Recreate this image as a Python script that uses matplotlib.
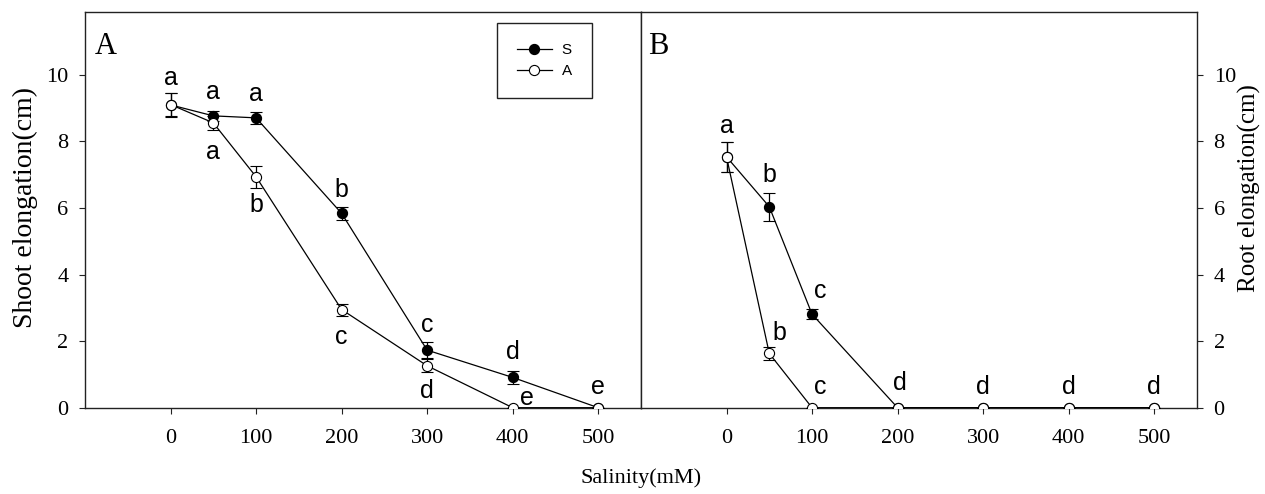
import matplotlib
matplotlib.use("Agg")
import matplotlib.pyplot as plt
from matplotlib.lines import Line2D

# ---------------- data ----------------
salinity = [0, 50, 100, 200, 300, 400, 500]

shoot_S = [9.10, 8.77, 8.71, 5.84, 1.73, 0.91, 0.0]
shoot_S_err = [0.35, 0.14, 0.17, 0.20, 0.24, 0.20, 0.0]
shoot_A = [9.11, 8.56, 6.94, 2.95, 1.26, 0.0, 0.0]
shoot_A_err = [0.35, 0.20, 0.33, 0.18, 0.20, 0.0, 0.0]

root_S = [7.54, 6.04, 2.81, 0.0, 0.0, 0.0, 0.0]
root_S_err = [0.45, 0.42, 0.15, 0.0, 0.0, 0.0, 0.0]
root_A = [7.54, 1.63, 0.0, 0.0, 0.0, 0.0, 0.0]
root_A_err = [0.45, 0.20, 0.0, 0.0, 0.0, 0.0, 0.0]

shoot_S_letters = ['a', 'a', 'a', 'b', 'c', 'd', 'e']
shoot_A_letters = ['', 'a', 'b', 'c', 'd', 'e', '']
root_S_letters = ['a', 'b', 'c', 'd', 'd', 'd', 'd']
root_A_letters = ['', 'b', 'c', '', '', '', '']

series_names = ['S', 'A']
xticks = [0, 100, 200, 300, 400, 500]
yticks = [0, 2, 4, 6, 8, 10]

# ---------------- layout (letter offsets in points) ----------------
shoot_S_off = [(0, 19), (0, 17), (0, 17), (0, 17), (0, 18), (0, 18), (0, 15)]
shoot_A_off = [(0, 0), (0, -21), (0, -20), (0, -20), (0, -18), (10, 7), (0, 0)]
root_S_off = [(0, 22), (0, 23), (6, 17), (2, 18), (0, 15), (0, 15), (0, 15)]
root_A_off = [(0, 0), (7, 15), (6, 15), (0, 0), (0, 0), (0, 0), (0, 0)]

serif = ['Liberation Serif', 'DejaVu Serif']
sans = ['Liberation Sans', 'DejaVu Sans']
plt.rcParams['font.family'] = serif

fig = plt.figure(figsize=(12.65, 4.94), dpi=100)
axL = fig.add_axes([0.0672, 0.1747, 0.4395, 0.8016])
axR = fig.add_axes([0.5067, 0.1747, 0.4395, 0.8016])

spine_col = '#222222'
MS = 7.3
LW = 0.9


def draw(ax, yS, eS, yA, eA, lS, lA, oS, oA):
    ax.errorbar(salinity, yS, yerr=eS, color='black', lw=LW, marker='o',
                ms=MS, mfc='black', mec='black', mew=0.8, capsize=4.3,
                elinewidth=LW, capthick=LW, zorder=3)
    ax.errorbar(salinity, yA, yerr=eA, color='black', lw=LW, marker='o',
                ms=MS, mfc='white', mec='black', mew=0.8, capsize=4.3,
                elinewidth=LW, capthick=LW, zorder=4)
    for x, y, t, o in zip(salinity, yS, lS, oS):
        if t:
            ax.annotate(t, (x, y), xytext=o, textcoords='offset points',
                        ha='center', va='center', fontsize=18, family=sans)
    for x, y, t, o in zip(salinity, yA, lA, oA):
        if t:
            ax.annotate(t, (x, y), xytext=o, textcoords='offset points',
                        ha='center', va='center', fontsize=18, family=sans)
    ax.set_xlim(-100, 550)
    ax.set_ylim(0, 11.9)
    ax.set_xticks(xticks)
    ax.set_yticks(yticks)
    for s in ax.spines.values():
        s.set_color(spine_col)
        s.set_linewidth(1.0)
    ax.tick_params(direction='out', length=4, width=0.8, color=spine_col,
                   labelsize=16)
    ax.tick_params(axis='x', pad=11)


draw(axL, shoot_S, shoot_S_err, shoot_A, shoot_A_err,
     shoot_S_letters, shoot_A_letters, shoot_S_off, shoot_A_off)
draw(axR, root_S, root_S_err, root_A, root_A_err,
     root_S_letters, root_A_letters, root_S_off, root_A_off)

axL.tick_params(axis='y', pad=8)
axR.yaxis.tick_right()
axR.tick_params(axis='y', pad=8)

axL.set_ylabel('Shoot elongation(cm)', fontsize=20)
axL.yaxis.label.set_va('center')
axL.yaxis.set_label_coords(-0.108, 0.505)
axR.yaxis.set_label_position('right')
axR.set_ylabel('Root elongation(cm)', fontsize=18, rotation=90)
axR.yaxis.label.set_va('center')
axR.yaxis.set_label_coords(1.095, 0.555)

axL.text(0.018, 0.948, 'A', transform=axL.transAxes, fontsize=22,
         va='top', ha='left')
axR.text(0.013, 0.948, 'B', transform=axR.transAxes, fontsize=22,
         va='top', ha='left')

fig.text(0.507, 0.032, 'Salinity(mM)', fontsize=16,
         ha='center', va='center')

handles = [
    Line2D([], [], color='black', lw=LW, marker='o', ms=MS, mfc='black',
           mec='black', mew=0.8),
    Line2D([], [], color='black', lw=LW, marker='o', ms=MS, mfc='white',
           mec='black', mew=0.8),
]
leg = axL.legend(handles, series_names, loc='upper left',
                 bbox_to_anchor=(0.7405, 0.9707),
                 prop={'family': sans, 'size': 11}, frameon=True,
                 fancybox=False, borderpad=1.3, handlelength=2.3,
                 handletextpad=0.65, labelspacing=0.45, borderaxespad=0)
leg.get_frame().set_edgecolor(spine_col)
leg.get_frame().set_linewidth(1.0)
leg.get_frame().set_alpha(1)

fig.savefig('out.png', dpi=100)
